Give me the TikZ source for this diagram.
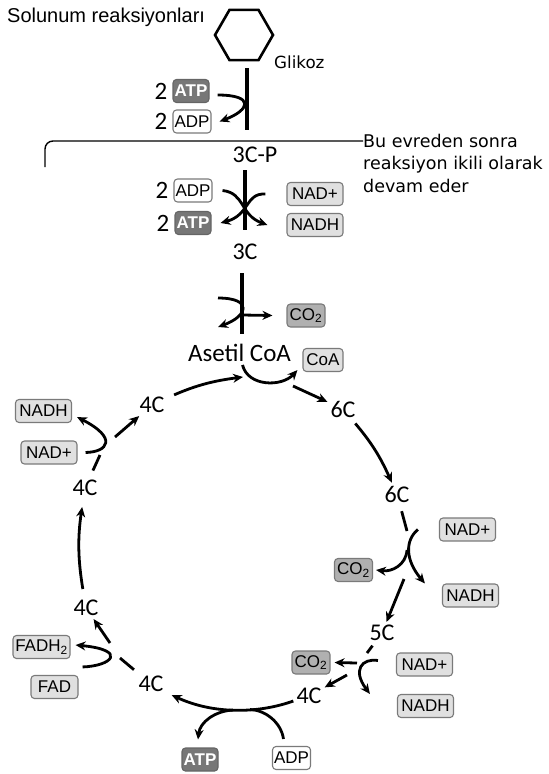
\documentclass[tikz,border=0pt]{standalone}
\usepackage{fontspec}
\setmainfont{Liberation Sans}
\newfontfamily\notefont{DejaVu Sans}
\newfontfamily\carbonfont{Carlito}
\usetikzlibrary{arrows.meta,positioning,shapes.geometric}
\definecolor{atpgray}{HTML}{777777}
\definecolor{nadgray}{HTML}{E0E0E0}
\definecolor{cogray}{HTML}{B0B0B0}
\definecolor{rimgray}{HTML}{7A7A7A}

\begin{document}
\begin{tikzpicture}[x=1pt,y=1pt,
  >={Stealth[length=10pt,width=9pt]},
  flow/.style={line width=2.8pt},
  stem/.style={line width=3.2pt},
  carbon/.style={font=\carbonfont\fontsize{24}{24}\selectfont,inner sep=3pt},
  coef/.style={font=\carbonfont\fontsize{25}{25}\selectfont,inner sep=0pt},
  mol/.style={draw=rimgray,line width=1.1pt,rounded corners=3.5pt,minimum height=23pt,inner xsep=1.5pt,inner ysep=0pt,font=\fontsize{17}{17}\selectfont},
  atpbox/.style={mol,fill=atpgray,draw=atpgray!85!black,text=white,font=\bfseries\fontsize{17}{17}\selectfont,minimum width=36pt},
  adpbox/.style={mol,fill=white,minimum width=36pt},
  nadbox/.style={mol,fill=nadgray,minimum width=56pt},
  cobox/.style={mol,fill=cogray,minimum width=38pt}]
\useasboundingbox (0,0) rectangle (549,-774);

% glikoz -> 3C-P
\node[anchor=west,inner sep=0pt,font=\fontsize{20}{20}\selectfont] (title) at (7,-17) {Solunum reaksiyonları};
\node[regular polygon,regular polygon sides=6,draw,line width=2.6pt,minimum size=58pt] (glc) at (244,-35) {};
\node[anchor=west,inner sep=0pt,font=\notefont\fontsize{16.7}{20}\selectfont] (glcname) at (274,-62) {Glikoz};
\coordinate (s1a) at (247,-68);
\coordinate (s1b) at (247,-130);
\draw[stem] (s1a) -- (s1b);
\node[atpbox] (atp1) at (191,-91) {ATP};
\node[coef,left=5pt of atp1] (two1) {2};
\node[adpbox] (adp1) at (192,-121.5) {ADP};
\node[coef,left=5pt of adp1] (two2) {2};
\draw[flow,->] ([shift={(8pt,-4pt)}]atp1.east) .. controls (255,-95) and (250,-110) .. ([xshift=8pt]adp1.east);

% ayrim cizgisi
\node[anchor=west,align=left,inner sep=0pt,font=\notefont\fontsize{17.5}{22.5}\selectfont] (note) at (363,-163) {Bu evreden sonra\\reaksiyon ikili olarak\\devam eder};
\coordinate (brk) at (45,-167);
\draw[line width=1.4pt,rounded corners=8pt] ([yshift=22pt]note.west) -| (brk);

% 3C-P -> 3C
\node[carbon] (c3p) at (255,-155) {3C-P};
\coordinate (s2a) at (245,-170);
\coordinate (s2b) at (245,-230);
\draw[stem] (s2a) -- (s2b);
\node[adpbox] (adp2) at (193,-190.5) {ADP};
\node[coef,left=5pt of adp2] (two3) {2};
\node[atpbox] (atp2) at (193,-223) {ATP};
\node[coef,left=5pt of atp2] (two4) {2};
\node[nadbox] (nad1) at (315,-194) {NAD+};
\node[nadbox] (nadh1) at (315,-225) {NADH};
\draw[flow,->] ([xshift=10pt]adp2.east) .. controls (245,-193) and (240,-215) .. ([xshift=-19pt]nadh1.west);
\draw[flow,->] ([xshift=-21pt]nad1.west) .. controls (245,-193) and (250,-215) .. ([xshift=9pt]atp2.east);

% 3C -> Asetil CoA
\node[carbon] (c3) at (245,-252) {3C};
\coordinate (s3a) at (242,-273);
\coordinate (s3b) at (242,-334);
\draw[stem] (s3a) -- (s3b);
\coordinate (p1) at (218,-298);
\coordinate (p2) at (218,-327);
\draw[flow,->] (p1) .. controls (253,-298) and (248,-316) .. (p2);
\node[cobox] (co2a) at (306,-315.5) {CO\textsubscript{2}};
\coordinate (s3m) at (242,-315);
\draw[flow,->] (s3m) -- ([xshift=-14pt]co2a.west);
\node[carbon,font=\carbonfont\fontsize{25}{25}\selectfont] (acoa) at (239.5,-353) {Asetil CoA};
\node[nadbox,minimum width=40pt] (coa) at (323,-360) {CoA};
\draw[flow,->] ([xshift=3pt]acoa.south) .. controls (248,-387) and (282,-387) .. ([shift={(-5pt,2pt)}]coa.south west);

% krebs dongusu
\node[carbon] (c4e) at (152,-405) {4C};
\coordinate (join) at (243,-377);
\draw[flow,->,shorten <=7pt] (c4e) to[bend left=8] (join);
\coordinate (j2) at (293,-386);
\node[carbon] (c6a) at (343,-409) {6C};
\draw[flow,->] (j2) -- (c6a);
\node[carbon] (c6b) at (397,-494) {6C};
\draw[flow,->,shorten <=4pt] (c6a) to[bend left=8] (c6b);

\coordinate (k6b) at (407,-531);
\draw[flow,shorten <=6pt] (c6b) -- (k6b);
\node[nadbox] (nad2) at (467.5,-529.5) {NAD+};
\node[nadbox] (nadh2) at (470.5,-595.5) {NADH};
\node[cobox] (co2b) at (353.5,-570) {CO\textsubscript{2}};
\draw[flow,->] ([xshift=-21pt]nad2.west) .. controls (405,-540) and (405,-560) .. ([xshift=-17pt]nadh2.north west);
\coordinate (k6c) at (407,-550);
\draw[flow,->] (k6c) .. controls (406,-565) and (392,-572) .. ([xshift=3pt]co2b.east);
\coordinate (k6d) at (404,-579);
\node[carbon] (c5) at (382,-633) {5C};
\draw[flow,->] (k6d) -- (c5);

\coordinate (k5b) at (367,-653);
\draw[flow,shorten <=2pt] (c5) -- (k5b);
\node[nadbox] (nad3) at (424.5,-664.5) {NAD+};
\node[nadbox] (nadh3) at (425.5,-706) {NADH};
\node[cobox] (co2c) at (311,-662.5) {CO\textsubscript{2}};
\draw[flow,->] ([shift={(-18pt,4pt)}]nad3.west) .. controls (362,-658) and (352,-670) .. ([xshift=-27pt]nadh3.north west);
\coordinate (k5c) at (357,-663);
\draw[flow,->] (k5c) -- ([xshift=4pt]co2c.east);
\coordinate (k5d) at (347,-675);
\node[carbon] (c4a) at (309,-696) {4C};
\draw[flow,->] (k5d) -- (c4a);

\node[carbon] (c4b) at (151,-684) {4C};
\node[atpbox] (atp3) at (200,-759.5) {ATP};
\node[adpbox] (adp3) at (291.5,-758) {ADP};
\draw[flow,->] ([yshift=-5pt]c4a.west) .. controls (260,-713) and (215,-715) .. ([xshift=5pt]c4b.south east);
\coordinate (k4a) at (233,-710);
\draw[flow,->] (k4a) .. controls (215,-711) and (200,-722) .. ([shift={(-2pt,8pt)}]atp3.north);
\coordinate (k4b) at (250,-709.5);
\draw[flow] ([shift={(-8pt,7pt)}]adp3.north) .. controls (281,-722) and (265,-710) .. (k4b);

\coordinate (k4c) at (120,-658);
\draw[flow,shorten <=5pt] (c4b) -- (k4c);
\node[nadbox,minimum width=57pt] (fadh2) at (41.5,-647) {FADH\textsubscript{2}};
\node[nadbox,minimum width=47pt] (fad) at (54.5,-687) {FAD};
\draw[flow,->] ([shift={(4pt,8pt)}]fad.north east) .. controls (112,-666) and (128,-650) .. ([shift={(5pt,2pt)}]fadh2.east);
\coordinate (k4d) at (110,-643);
\node[carbon] (c4c) at (86,-608) {4C};
\draw[flow,->] (k4d) -- (c4c);
\node[carbon] (c4d) at (85,-488) {4C};
\draw[flow,->,shorten <=8pt,shorten >=8pt] (c4c) to[bend left=9] (c4d);

\coordinate (k4e) at (100,-455);
\draw[flow,shorten <=7pt] (c4d) -- (k4e);
\node[nadbox] (nadh4) at (43.5,-411) {NADH};
\node[nadbox] (nad4) at (49,-452.5) {NAD+};
\draw[flow,->] ([xshift=8pt]nad4.east) .. controls (108,-452) and (118,-438) .. ([shift={(5pt,6pt)}]nadh4.south east);
\coordinate (k4f) at (115,-437);
\draw[flow,->] (k4f) -- (c4e);
\end{tikzpicture}
\end{document}
